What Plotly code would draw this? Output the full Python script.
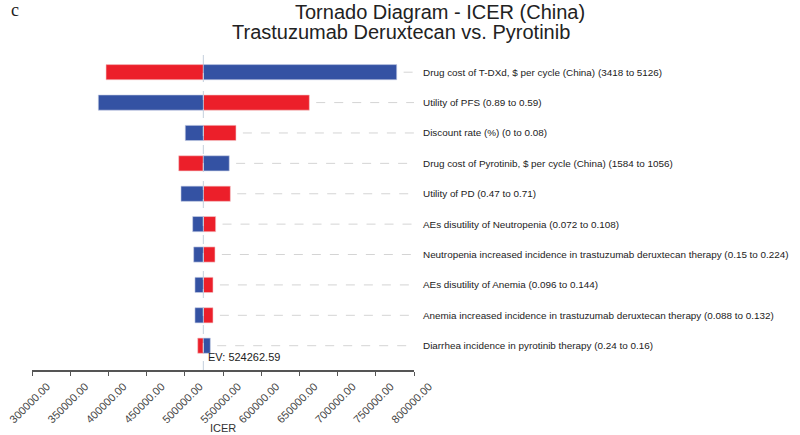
import plotly.graph_objects as go

# ── Data ───────────────────────────────────────────────────
ev = 524262.59

params = [
    "Drug cost of T-DXd, $ per cycle (China) (3418 to 5126)",
    "Utility of PFS (0.89 to 0.59)",
    "Discount rate (%) (0 to 0.08)",
    "Drug cost of Pyrotinib, $ per cycle (China) (1584 to 1056)",
    "Utility of PD (0.47 to 0.71)",
    "AEs disutility of Neutropenia (0.072 to 0.108)",
    "Neutropenia increased incidence in trastuzumab deruxtecan therapy (0.15 to 0.224)",
    "AEs disutility of Anemia (0.096 to 0.144)",
    "Anemia increased incidence in trastuzumab deruxtecan therapy (0.088 to 0.132)",
    "Diarrhea incidence in pyrotinib therapy (0.24 to 0.16)",
]
# ICER at each end of the range (blue / red end)
blue_icer = [777400, 386800, 500600, 558200, 495000, 510300, 511600, 513300, 513300, 533400]
red_icer = [396900, 663000, 567000, 492000, 559600, 540400, 539500, 536900, 536900, 516900]

x_ticks = list(range(300000, 800001, 50000))

BLUE = "#3452a3"
RED = "#ec1f2a"

# plot area in pixels
W, H = 800, 435
L, R, T, B = 32, 414, 57, 370


def px(x, y):
    """pixel position -> paper coords"""
    return (x - L) / (R - L), (B - y) / (B - T)


fig = go.Figure()

# dashed leader lines from bar end to the labels
lead_x, lead_y = [], []
for p, b, r in zip(params, blue_icer, red_icer):
    lead_x += [max(b, r) + 9000, x_ticks[-1], None]
    lead_y += [p, p, None]
fig.add_trace(go.Scatter(
    x=lead_x, y=lead_y, mode="lines",
    line=dict(color="#d4d4d4", width=1, dash="dash"),
    hoverinfo="skip", showlegend=False,
))

fig.add_trace(go.Bar(
    y=params, x=[v - ev for v in red_icer], base=ev,
    orientation="h", marker_color=RED,
    marker_line=dict(color="#f3c9cb", width=0.6),
    width=0.5, showlegend=False,
))
fig.add_trace(go.Bar(
    y=params, x=[v - ev for v in blue_icer], base=ev,
    orientation="h", marker_color=BLUE,
    marker_line=dict(color="#c9d0e6", width=0.6),
    width=0.5, showlegend=False,
))

# expected value line
fig.add_shape(
    type="line", x0=ev, x1=ev, xref="x", y0=0, y1=1.01, yref="paper",
    line=dict(color="#c5cfdd", width=1, dash="dash"), layer="above",
)

t1 = px(440, 12.5)
t2 = px(401, 32)
tc = px(15, 10)
tx = px(223, 428)

fig.update_layout(
    width=W, height=H,
    plot_bgcolor="white", paper_bgcolor="white",
    font=dict(family="Liberation Sans, Arial", color="#222"),
    margin=dict(l=L, r=W - R, t=T, b=H - B, autoexpand=False),
    barmode="overlay",
    xaxis=dict(
        range=[x_ticks[0], x_ticks[-1]],
        tickvals=x_ticks, tickformat=".2f", tickangle=-45,
        tickfont=dict(size=11, color="#444"),
        ticklabeloverflow="allow", ticklabelshift=15,
        showgrid=False, zeroline=False, automargin=False,
        showline=True, linecolor="#555", linewidth=1.5,
        ticks="outside", ticklen=4, tickcolor="#555",
    ),
    # second axis only to draw the upper half of the crossing ticks
    xaxis2=dict(
        overlaying="x", matches="x", anchor="y", side="bottom",
        tickvals=x_ticks, ticks="inside", ticklen=4, tickcolor="#555",
        tickfont=dict(color="#444"),
        showticklabels=False, showgrid=False, zeroline=False,
        showline=False, automargin=False,
    ),
    yaxis=dict(
        side="right", autorange=False, range=[9.8, -0.5],
        showgrid=False, zeroline=False, showline=False, automargin=False,
        tickfont=dict(size=9.9, color="#222"),
        ticks="", ticklabelstandoff=8, ticklabeloverflow="allow",
    ),
    annotations=[
        dict(text="Tornado Diagram - ICER (China)", x=t1[0], y=t1[1],
             xref="paper", yref="paper", showarrow=False,
             xanchor="center", yanchor="middle",
             font=dict(size=20, color="#222")),
        dict(text="Trastuzumab Deruxtecan vs. Pyrotinib", x=t2[0], y=t2[1],
             xref="paper", yref="paper", showarrow=False,
             xanchor="center", yanchor="middle",
             font=dict(size=20, color="#222")),
        dict(text="c", x=tc[0], y=tc[1], xref="paper", yref="paper",
             showarrow=False, xanchor="center", yanchor="middle",
             font=dict(size=18, family="Liberation Serif", color="#222")),
        dict(text="EV: " + f"{ev:.2f}", x=ev, y=9.37, xref="x", yref="y",
             xanchor="left", xshift=3, showarrow=False,
             font=dict(size=11, color="#222")),
        dict(text="ICER", x=tx[0], y=tx[1], xref="paper", yref="paper",
             xanchor="center", yanchor="middle",
             showarrow=False, font=dict(size=11, color="#333")),
    ],
)

# drop the browser's default body margin so the figure sits at (0, 0)
fig.write_html("out.html", config={"displayModeBar": False},
               post_script="document.body.style.margin = '0';")
